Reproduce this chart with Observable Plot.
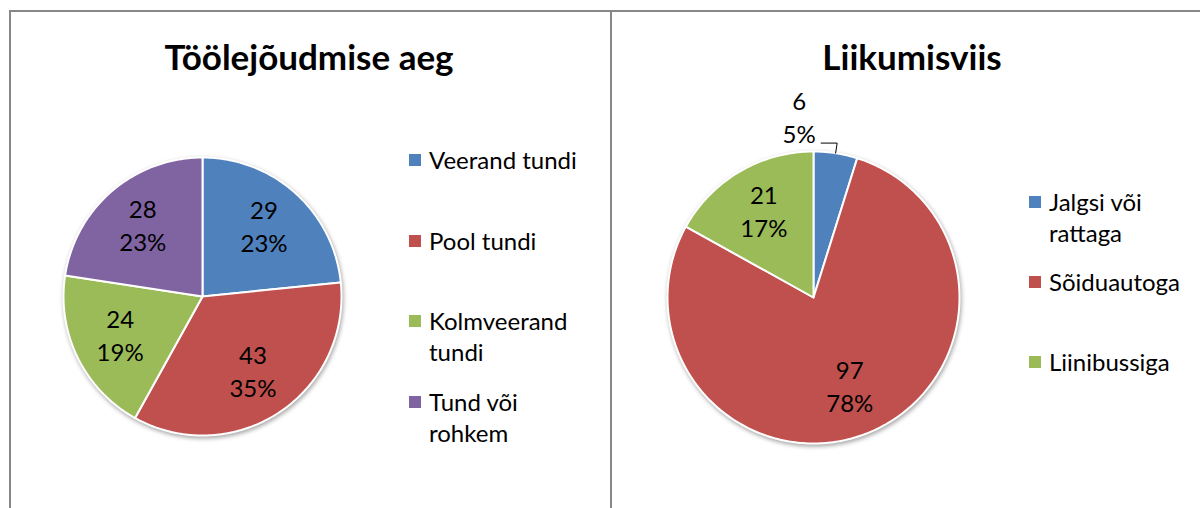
<!DOCTYPE html>
<html>
<head>
<meta charset="utf-8">
<script src="https://cdn.jsdelivr.net/npm/d3@7"></script>
<script src="https://cdn.jsdelivr.net/npm/@observablehq/plot@0.6"></script>
<style>
  html, body { margin: 0; padding: 0; background: #fff; }
  #wrap { position: relative; width: 1200px; height: 508px; overflow: hidden; font-family: Lato, "Open Sans", sans-serif; color: #000; }
  .box { position: absolute; top: 10px; height: 520px; border-top: 2px solid #878787; border-left: 2px solid #878787; box-sizing: border-box; z-index: 5; pointer-events: none; }
  .title { position: absolute; font-weight: bold; font-size: 35px; text-align: center; line-height: 1; white-space: nowrap; transform: translate(-50%, -50%); }
  .pie { position: absolute; }
  .pie svg { background: transparent !important; overflow: visible; }
  .pie g[aria-label="geo"] { filter: drop-shadow(1.5px 2px 2px rgba(0,0,0,0.35)); }
  .legend { position: absolute; font-size: 24px; line-height: 31px; }
  .entry { position: absolute; left: 0; padding-left: 20px; }
  .sw { position: absolute; left: 0; top: 10px; width: 12px; height: 12px; }
</style>
</head>
<body>
<div id="wrap">
  <div class="box" style="left:9px; width:604px;"></div>
  <div class="box" style="left:610px; width:600px;"></div>
</div>
<script>
// ---- data ----
const chart1Title = "Töölejõudmise aeg";
const chart1Categories = ["Veerand tundi", "Pool tundi", "Kolmveerand tundi", "Tund või rohkem"];
const chart1Values = [29, 43, 24, 28];

const chart2Title = "Liikumisviis";
const chart2Categories = ["Jalgsi või rattaga", "Sõiduautoga", "Liinibussiga"];
const chart2Values = [6, 97, 21];

const sliceColors = ["#4F81BD", "#C0504D", "#9BBB59", "#8064A2"];

// ---- helpers ----
const wrap = document.getElementById("wrap");

function circleRing(n = 360) {
  const ring = [];
  for (let i = 0; i <= n; i++) {
    const a = (i / n) * 2 * Math.PI;
    ring.push([Math.sin(a), -Math.cos(a)]);
  }
  return ring;
}

function buildSlices(cats, vals) {
  const total = d3.sum(vals);
  let acc = 0;
  return cats.map((c, i) => {
    const a0 = (acc / total) * 2 * Math.PI;
    acc += vals[i];
    const a1 = (acc / total) * 2 * Math.PI;
    const steps = Math.max(2, Math.ceil((a1 - a0) / (Math.PI / 180)));
    const ring = [[0, 0]];
    for (let k = 0; k <= steps; k++) {
      const a = a0 + (a1 - a0) * k / steps;
      ring.push([Math.sin(a), -Math.cos(a)]);
    }
    ring.push([0, 0]);
    const mid = (a0 + a1) / 2;
    return {
      type: "Feature",
      properties: {cat: c, value: vals[i], pct: Math.round(vals[i] / total * 100), mid, frac: vals[i] / total},
      geometry: {type: "Polygon", coordinates: [ring]}
    };
  });
}

function drawPie({cats, vals, cx, cy, r, m, labelR, labelDy, outside}) {
  const slices = buildSlices(cats, vals);
  const W = 2 * r + 2 * m;
  const inside = slices.filter(s => !outside.includes(s.properties.cat));
  const out = slices.filter(s => outside.includes(s.properties.cat));
  const leader = [];
  out.forEach(s => {
    const a = s.properties.mid;
    const p0 = [Math.sin(a), -Math.cos(a)];
    const p1 = [Math.sin(a) * 1.07, -Math.cos(a) * 1.07];
    const p2 = [p1[0] - 16 / r, p1[1]];
    leader.push({x: p0[0], y: p0[1], k: s.properties.cat}, {x: p1[0], y: p1[1], k: s.properties.cat}, {x: p2[0], y: p2[1], k: s.properties.cat});
    s.lx = p2[0]; s.ly = p2[1];
  });
  const svg = Plot.plot({
    width: W, height: W, margin: 0,
    style: {background: "transparent", fontFamily: "Lato, 'Open Sans', sans-serif", overflow: "visible"},
    projection: {type: "identity", domain: {type: "Polygon", coordinates: [circleRing()]}, inset: m},
    color: {domain: cats, range: sliceColors.slice(0, cats.length)},
    marks: [
      Plot.geo(slices, {fill: d => d.properties.cat, stroke: "white", strokeWidth: 2}),
      Plot.text(inside, {
        x: d => Math.sin(d.properties.mid) * labelR,
        y: d => -Math.cos(d.properties.mid) * labelR,
        text: d => `${d.properties.value}\n${d.properties.pct}%`,
        fontSize: 24, lineHeight: 1.375, fill: "black", dy: labelDy
      }),
      Plot.line(leader, {x: "x", y: "y", z: "k", stroke: "black", strokeWidth: 1, curve: "linear"}),
      Plot.text(out, {
        x: d => d.lx, y: d => d.ly,
        text: d => `${d.properties.value}\n${d.properties.pct}%`,
        fontSize: 24, lineHeight: 1.375, fill: "black", dx: -22, dy: -27
      })
    ]
  });
  const holder = document.createElement("div");
  holder.className = "pie";
  holder.style.left = (cx - W / 2) + "px";
  holder.style.top = (cy - W / 2) + "px";
  holder.appendChild(svg);
  wrap.appendChild(holder);
}

function drawTitle(text, x, y) {
  const t = document.createElement("div");
  t.className = "title";
  t.textContent = text;
  t.style.left = x + "px";
  t.style.top = y + "px";
  wrap.appendChild(t);
}

function drawLegend(cats, x, y, step, textWidth) {
  const lg = document.createElement("div");
  lg.className = "legend";
  lg.style.left = x + "px";
  lg.style.top = y + "px";
  cats.forEach((c, i) => {
    const e = document.createElement("div");
    e.className = "entry";
    e.style.top = (i * step) + "px";
    e.style.width = textWidth + "px";
    const sw = document.createElement("span");
    sw.className = "sw";
    sw.style.background = sliceColors[i];
    e.appendChild(sw);
    e.appendChild(document.createTextNode(c));
    lg.appendChild(e);
  });
  wrap.appendChild(lg);
}

drawTitle(chart1Title, 309, 56);
drawTitle(chart2Title, 912, 56);

drawPie({cats: chart1Categories, vals: chart1Values, cx: 202, cy: 296, r: 139, m: 20, labelR: 0.66, labelDy: -3, outside: []});
drawPie({cats: chart2Categories, vals: chart2Values, cx: 813, cy: 297, r: 146, m: 60, labelR: 0.67, labelDy: -3, outside: ["Jalgsi või rattaga"]});

drawLegend(chart1Categories, 409, 144, 80.7, 162);
drawLegend(chart2Categories, 1029, 186, 80, 145);
</script>
</body>
</html>
